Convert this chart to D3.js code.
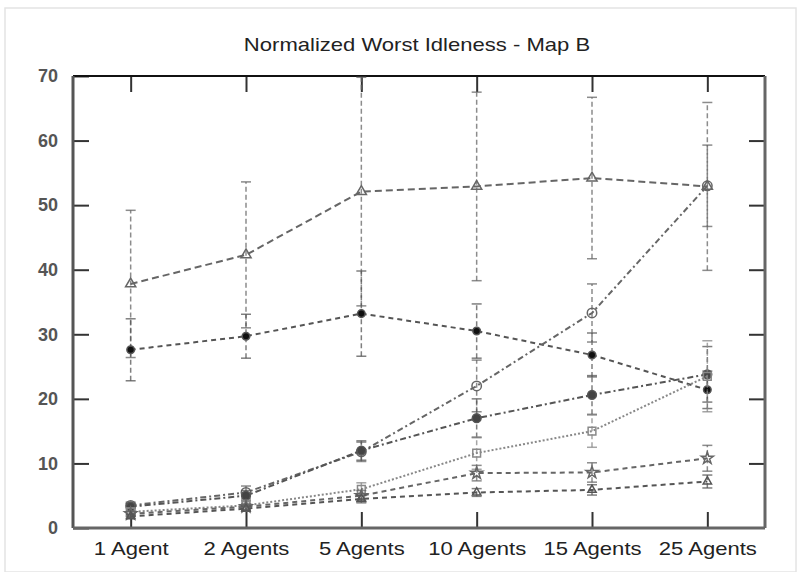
<!DOCTYPE html>
<html><head><meta charset="utf-8">
<script src="https://cdn.jsdelivr.net/npm/d3@7"></script>
<style>
body{margin:0;background:#fff;}
svg text{font-family:"Liberation Sans",Arial,sans-serif;}
</style></head>
<body><svg id="chart" width="797" height="572"></svg>
<script>
const title = "Normalized Worst Idleness - Map B";
const categories = ["1 Agent","2 Agents","5 Agents","10 Agents","15 Agents","25 Agents"];
const yTicks = [0,10,20,30,40,50,60,70];

const seriesA = [37.8, 42.3, 52.1, 52.9, 54.2, 52.9];
const errA    = [11.4, 11.3, 17.7, 14.6, 12.5, 13.0];
const seriesB = [27.6, 29.7, 33.2, 30.5, 26.8, 21.4];
const errB    = [4.8, 3.4, 6.6, 4.2, 3.4, 2.9];
const seriesC = [3.5, 5.5, 11.8, 22.0, 33.3, 53.0];
const errC    = [0.5, 1.0, 1.5, 4.0, 4.5, 6.3];
const seriesD = [3.3, 5.0, 12.0, 17.0, 20.6, 23.8];
const errD    = [0.5, 0.8, 1.5, 3.0, 3.0, 4.3];
const seriesE = [2.5, 3.5, 6.0, 11.6, 15.0, 23.5];
const errE    = [0.6, 0.8, 1.0, 2.5, 2.5, 5.5];
const seriesF = [2.2, 3.3, 5.0, 8.5, 8.6, 10.8];
const errF    = [0.4, 0.5, 0.8, 1.2, 1.5, 2.0];
const seriesG = [1.8, 3.0, 4.5, 5.5, 5.9, 7.2];
const errG    = [0.3, 0.4, 0.6, 0.6, 0.8, 1.0];

const series = [
  {v: seriesA, e: errA, dash: "7,4", color: "#666", sym: d3.symbolTriangle, fill: "none", size: 45},
  {v: seriesB, e: errB, dash: "5,4", color: "#555", sym: d3.symbolCircle, fill: "#111", size: 45},
  {v: seriesC, e: errC, dash: "6,3,2,3", color: "#666", sym: d3.symbolCircle, fill: "none", size: 70},
  {v: seriesD, e: errD, dash: "6,3,2,3", color: "#555", sym: d3.symbolCircle, fill: "#444", size: 60},
  {v: seriesE, e: errE, dash: "2,2", color: "#888", sym: d3.symbolSquare, fill: "none", size: 60},
  {v: seriesF, e: errF, dash: "5,4", color: "#666", sym: d3.symbolStar, fill: "none", size: 45},
  {v: seriesG, e: errG, dash: "5,4", color: "#555", sym: d3.symbolTriangle, fill: "none", size: 30}
];

const svg = d3.select("#chart");
const W = 797, H = 572;
const m = {left: 73, right: 32, top: 76, bottom: 44};
const x = d3.scaleLinear().domain([0.5, categories.length + 0.5]).range([m.left, W - m.right]);
const y = d3.scaleLinear().domain([0, 70]).range([H - m.bottom, m.top]);
function widen(stretch) {
  return sel => sel.each(function() {
    const len = this.getComputedTextLength();
    d3.select(this).attr("textLength", len * stretch).attr("lengthAdjust", "spacingAndGlyphs");
  });
}

// outer light frame
svg.append("rect").attr("x", 5).attr("y", 8).attr("width", W - 6).attr("height", H - 8)
  .attr("fill", "none").attr("stroke", "#e4e4e4").attr("stroke-width", 1.5);

svg.append("text").attr("x", 417).attr("y", 51)
  .attr("text-anchor", "middle").attr("font-size", 19).attr("fill", "#222")
  .text(title).call(widen(1.16));

const g = svg.append("g");
svg.append("clipPath").attr("id", "clip").append("rect")
  .attr("x", m.left).attr("y", m.top).attr("width", W - m.left - m.right).attr("height", H - m.top - m.bottom);

const tl = 16;
const axL = d3.axisLeft(y).tickValues(yTicks).tickSize(-tl).tickPadding(15).tickFormat(d3.format("d"));
const gl = g.append("g").attr("transform", `translate(${m.left},0)`).call(axL);
const axR = d3.axisRight(y).tickValues(yTicks.slice(1, -1)).tickSize(-tl).tickFormat("");
const gr = g.append("g").attr("transform", `translate(${W - m.right},0)`).call(axR);
const xIdx = categories.map((c, i) => i + 1);
const axB = d3.axisBottom(x).tickValues(xIdx).tickSize(-tl).tickPadding(14).tickFormat(i => categories[i - 1]);
const gb = g.append("g").attr("transform", `translate(0,${H - m.bottom})`).call(axB);
const axT = d3.axisTop(x).tickValues(xIdx).tickSize(-tl).tickFormat("");
const gt = g.append("g").attr("transform", `translate(0,${m.top})`).call(axT);
[gl, gr, gb, gt].forEach(a => {
  a.attr("font-family", null).attr("font-size", null);
  a.select(".domain").remove();
  a.selectAll(".tick line").attr("stroke", "#333").attr("stroke-width", 2);
});
gb.selectAll(".tick text").attr("font-size", 19).attr("fill", "#222").call(widen(1.16));
gl.selectAll(".tick text").attr("font-size", 18).attr("font-weight", "bold").attr("fill", "#555");

// frame
g.append("line").attr("x1", m.left).attr("x2", W - m.right).attr("y1", m.top).attr("y2", m.top).attr("stroke", "#111").attr("stroke-width", 2);
g.append("line").attr("x1", m.left).attr("x2", m.left).attr("y1", m.top).attr("y2", H - m.bottom).attr("stroke", "#555").attr("stroke-width", 3);
g.append("line").attr("x1", W - m.right).attr("x2", W - m.right).attr("y1", m.top).attr("y2", H - m.bottom).attr("stroke", "#666").attr("stroke-width", 3);
g.append("line").attr("x1", m.left).attr("x2", W - m.right).attr("y1", H - m.bottom).attr("y2", H - m.bottom).attr("stroke", "#666").attr("stroke-width", 3);

const plot = g.append("g").attr("clip-path", "url(#clip)");
const line = d3.line().x((d, i) => x(i + 1)).y(d => y(d));

series.forEach(s => {
  const sg = plot.append("g");
  s.v.forEach((v, i) => {
    const cx = x(i + 1), lo = y(Math.max(0, v - s.e[i])), hi = y(v + s.e[i]);
    sg.append("line").attr("x1", cx).attr("x2", cx).attr("y1", lo).attr("y2", hi)
      .attr("stroke", s.color).attr("stroke-width", 1.5).attr("stroke-dasharray", "5,3").attr("opacity", 0.75);
    [lo, hi].forEach(yy => sg.append("line").attr("x1", cx - 5).attr("x2", cx + 5).attr("y1", yy).attr("y2", yy)
      .attr("stroke", s.color).attr("stroke-width", 1.5).attr("opacity", 0.75));
  });
  sg.append("path").attr("d", line(s.v)).attr("fill", "none")
    .attr("stroke", s.color).attr("stroke-width", 2).attr("stroke-dasharray", s.dash);
  sg.selectAll(".mk").data(s.v).enter().append("path")
    .attr("transform", (d, i) => `translate(${x(i + 1)},${y(d)})`)
    .attr("d", d3.symbol().type(s.sym).size(s.size))
    .attr("fill", s.fill).attr("stroke", s.color).attr("stroke-width", 1.5);
});
</script>
</body></html>
